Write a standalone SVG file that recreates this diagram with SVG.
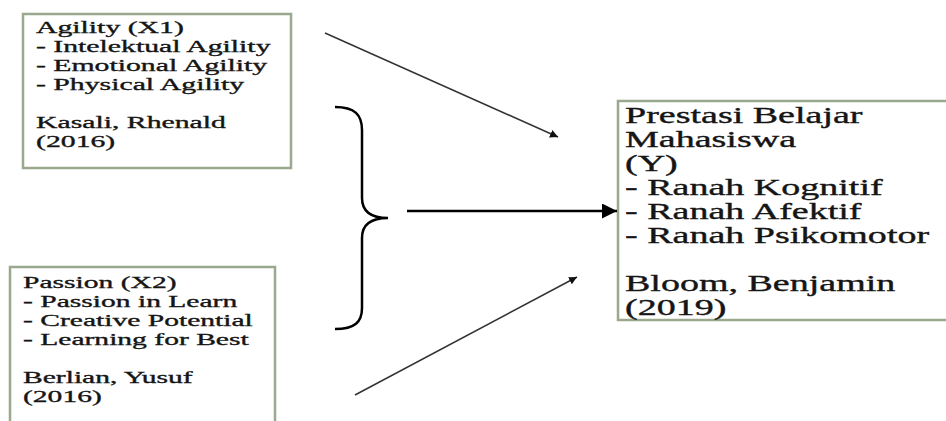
<svg xmlns="http://www.w3.org/2000/svg" width="946" height="421" viewBox="0 0 946 421">
<defs>
<style>
.box{fill:#fff;stroke:#9aa88e;stroke-width:2.5}
.t1{font-family:"Liberation Serif","Times New Roman",serif;font-size:17.5px;fill:#151515;stroke:#151515;stroke-width:0.35}
.t2{font-family:"Liberation Serif","Times New Roman",serif;font-size:22.5px;fill:#151515;stroke:#151515;stroke-width:0.35}
.thin{stroke:#333;stroke-width:1.5;fill:none}
.thick{stroke:#000;stroke-width:2.5;fill:none}
</style>
<marker id="ah" viewBox="0 0 10 10" refX="10" refY="5" markerWidth="8" markerHeight="8" markerUnits="userSpaceOnUse" orient="auto"><path d="M0,0 L10,5 L0,10 Z" fill="#111"/></marker>
<marker id="ahb" viewBox="0 0 10 10" refX="10" refY="5" markerWidth="15" markerHeight="15" markerUnits="userSpaceOnUse" orient="auto"><path d="M0,0 L10,5 L0,10 Z" fill="#000"/></marker>
</defs>
<g id="agility">
<rect class="box" x="23" y="14" width="268" height="154"/>
<g transform="translate(36,0) scale(1.70,1)">
<text class="t1" x="0" y="33">Agility (X1)</text>
<text class="t1" x="0" y="52">- Intelektual Agility</text>
<text class="t1" x="0" y="71">- Emotional Agility</text>
<text class="t1" x="0" y="90">- Physical Agility</text>
<text class="t1" x="0" y="128">Kasali, Rhenald</text>
<text class="t1" x="0" y="147">(2016)</text>
</g>
</g>
<g id="passion">
<rect class="box" x="10" y="267" width="265" height="170"/>
<g transform="translate(23,0) scale(1.69,1)">
<text class="t1" x="0" y="288">Passion (X2)</text>
<text class="t1" x="0" y="307">- Passion in Learn</text>
<text class="t1" x="0" y="326">- Creative Potential</text>
<text class="t1" x="0" y="345">- Learning for Best</text>
<text class="t1" x="0" y="383">Berlian, Yusuf</text>
<text class="t1" x="0" y="402">(2016)</text>
</g>
</g>
<g id="prestasi">
<rect class="box" x="618" y="101" width="340" height="219"/>
<g transform="translate(625,0) scale(1.69,1)">
<text class="t2" x="0" y="123">Prestasi Belajar</text>
<text class="t2" x="0" y="147">Mahasiswa</text>
<text class="t2" x="0" y="171">(Y)</text>
<text class="t2" x="0" y="195">- Ranah Kognitif</text>
<text class="t2" x="0" y="219">- Ranah Afektif</text>
<text class="t2" x="0" y="243">- Ranah Psikomotor</text>
<text class="t2" x="0" y="291">Bloom, Benjamin</text>
<text class="t2" x="0" y="315">(2019)</text>
</g>
</g>
<g id="connectors">
<line class="thin" x1="325" y1="33" x2="558" y2="137" marker-end="url(#ah)"/>
<line class="thin" x1="355" y1="395" x2="577" y2="277" marker-end="url(#ah)"/>
<line class="thick" x1="407" y1="211" x2="617" y2="211" marker-end="url(#ahb)"/>
<path class="thick" stroke-width="2" d="M335,107 C355,107 362,115 362,130 L362,198 C362,212 372,218 388,218 C372,218 362,224 362,238 L362,308 C362,322 355,329 335,329"/>
</g>
</svg>
